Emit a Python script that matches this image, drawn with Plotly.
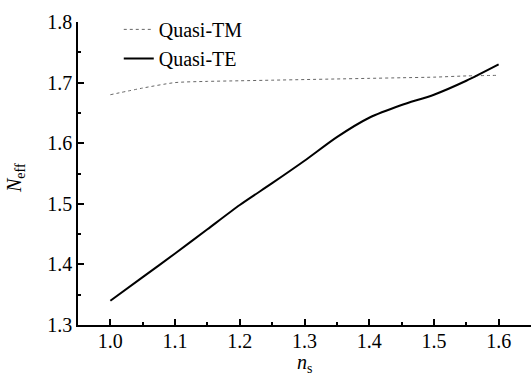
import plotly.graph_objects as go

ns = [1.0, 1.05, 1.1, 1.15, 1.2, 1.25, 1.3, 1.35, 1.4, 1.45, 1.5, 1.55, 1.6]
quasi_tm = [1.680, 1.691, 1.700, 1.702, 1.703, 1.704, 1.705, 1.706, 1.707, 1.708, 1.709, 1.711, 1.712]
quasi_te = [1.340, 1.379, 1.418, 1.458, 1.498, 1.534, 1.571, 1.610, 1.642, 1.663, 1.680, 1.703, 1.730]

font = "Liberation Serif, Times New Roman, serif"

fig = go.Figure()
fig.add_trace(go.Scatter(x=ns, y=quasi_tm, mode="lines", name="Quasi-TM",
                         line=dict(color="#666666", width=1, dash="dot", shape="spline", smoothing=0.7)))
fig.add_trace(go.Scatter(x=ns, y=quasi_te, mode="lines", name="Quasi-TE",
                         line=dict(color="#000000", width=2, shape="spline", smoothing=0.7)))

fig.update_layout(
    width=531, height=377,
    margin=dict(l=78, r=0, t=22, b=52),
    paper_bgcolor="white", plot_bgcolor="white",
    font=dict(family=font, size=20, color="black"),
    showlegend=True,
    legend=dict(x=0.09, y=1.04, xanchor="left", yanchor="top",
                bgcolor="rgba(0,0,0,0)", font=dict(size=20, family=font),
                tracegroupgap=0, itemwidth=30),
    xaxis=dict(range=[0.95, 1.65], tickvals=[1.0, 1.1, 1.2, 1.3, 1.4, 1.5, 1.6],
               ticktext=["1.0", "1.1", "1.2", "1.3", "1.4", "1.5", "1.6"],
               ticks="inside", ticklen=6, tickwidth=1.5, tickcolor="black", ticklabelstandoff=-3,
               minor=dict(dtick=0.05, tick0=0.95, ticks="inside", ticklen=3, tickwidth=1.5, tickcolor="black"),
               showline=True, linecolor="black", linewidth=1.5, showgrid=False, zeroline=False,
               tickfont=dict(size=20, family=font)),
    yaxis=dict(range=[1.3, 1.8], tickvals=[1.3, 1.4, 1.5, 1.6, 1.7, 1.8],
               ticktext=["1.3", "1.4", "1.5", "1.6", "1.7", "1.8"],
               ticks="inside", ticklen=6, tickwidth=1.5, tickcolor="black",
               minor=dict(dtick=0.05, tick0=1.3, ticks="inside", ticklen=3, tickwidth=1.5, tickcolor="black"),
               showline=True, linecolor="black", linewidth=1.5, showgrid=False, zeroline=False,
               tickfont=dict(size=20, family=font)),
    annotations=[
        dict(text="<i>n</i><sub>s</sub>", xref="paper", yref="paper", x=0.501, y=-0.127,
             xanchor="center", yanchor="middle", showarrow=False, font=dict(size=20, family=font)),
        dict(text="<i>N</i><sub>eff</sub>", xref="paper", yref="paper", x=-0.139, y=0.485,
             xanchor="center", yanchor="middle", showarrow=False, textangle=-90,
             font=dict(size=20, family=font)),
    ],
)

fig.write_html("out.html", config={"displayModeBar": False},
               post_script="document.body.style.margin='0';document.body.style.overflow='hidden';")
